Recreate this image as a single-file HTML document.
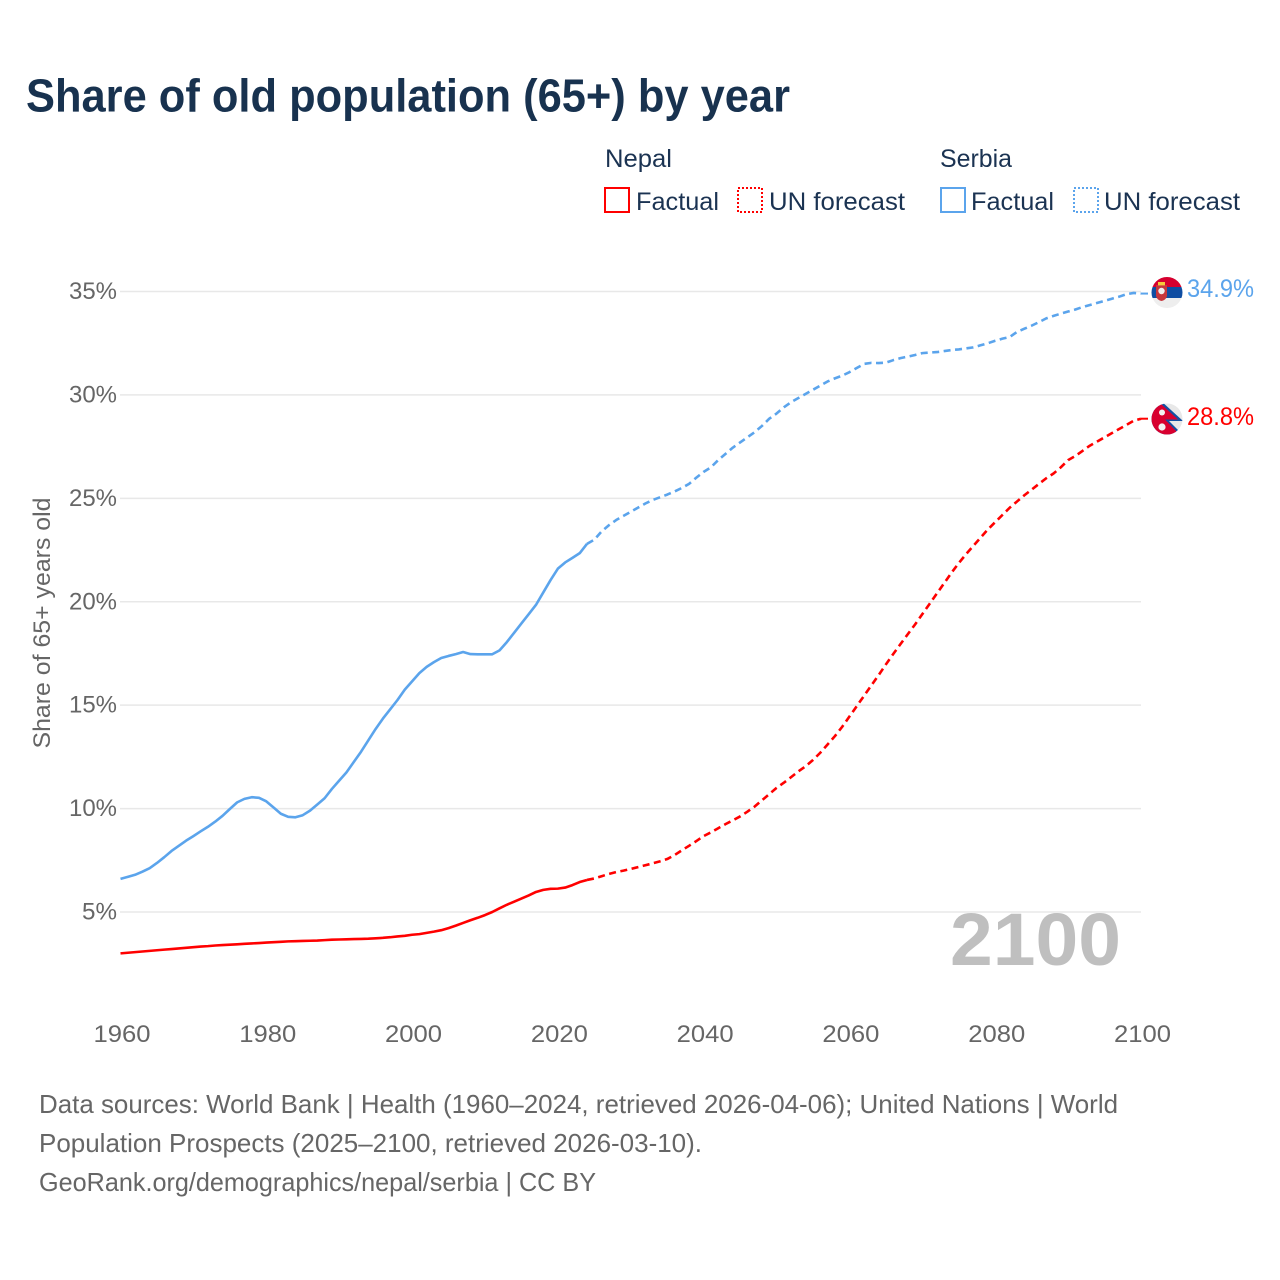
<!DOCTYPE html>
<html lang="en">
<head>
<meta charset="utf-8">
<title>Share of old population (65+) by year</title>
<style>
html,body{margin:0;padding:0;background:#fff;}
svg{display:block;font-family:"Liberation Sans",sans-serif;}
</style>
</head>
<body>
<svg id="chart" xmlns="http://www.w3.org/2000/svg" width="1280" height="1280" viewBox="0 0 1280 1280">
  <defs>
    <clipPath id="clip-rs"><circle cx="1167" cy="292.5" r="15.5"/></clipPath>
    <clipPath id="clip-np"><circle cx="1167" cy="419" r="15.5"/></clipPath>
  </defs>
  <rect width="1280" height="1280" fill="#fff"/>
  <text x="26" y="111.5" font-size="46" font-weight="700" fill="#18324f" textLength="764" lengthAdjust="spacingAndGlyphs">Share of old population (65+) by year</text>

  <g font-size="25" fill="#1b3352">
    <text x="605" y="167" textLength="67" lengthAdjust="spacingAndGlyphs">Nepal</text>
    <rect x="605" y="188" width="24" height="24" fill="none" stroke="#ff0000" stroke-width="2"/>
    <text x="636" y="210" textLength="83" lengthAdjust="spacingAndGlyphs">Factual</text>
    <rect x="738" y="188" width="24" height="24" fill="none" stroke="#ff0000" stroke-width="2" stroke-dasharray="2 2"/>
    <text x="769" y="210" textLength="136" lengthAdjust="spacingAndGlyphs">UN forecast</text>
    <text x="940" y="167" textLength="72" lengthAdjust="spacingAndGlyphs">Serbia</text>
    <rect x="941" y="188" width="24" height="24" fill="none" stroke="#5ba4ec" stroke-width="2"/>
    <text x="971" y="210" textLength="83" lengthAdjust="spacingAndGlyphs">Factual</text>
    <rect x="1074" y="188" width="24" height="24" fill="none" stroke="#5ba4ec" stroke-width="2" stroke-dasharray="2 2"/>
    <text x="1104" y="210" textLength="136" lengthAdjust="spacingAndGlyphs">UN forecast</text>
  </g>

  <text transform="translate(50,623) rotate(-90)" text-anchor="middle" font-size="24" fill="#666" textLength="251" lengthAdjust="spacingAndGlyphs">Share of 65+ years old</text>

  <g id="grid"></g>
  <g id="y-ticks"></g>
  <g id="x-ticks"></g>

  <text x="950" y="965" font-size="74" font-weight="700" fill="#bfbfbf" textLength="171" lengthAdjust="spacingAndGlyphs">2100</text>

  <g id="series"></g>

  <g clip-path="url(#clip-rs)">
    <rect x="1150" y="276" width="34" height="11" fill="#d6002f"/>
    <rect x="1150" y="287" width="34" height="11" fill="#0f4da2"/>
    <rect x="1150" y="298" width="34" height="11" fill="#eeeeee"/>
    <path d="M1156 285h11v11q-1 4-5.500 5q-4.500-1-5.500-5z" fill="#c6363c"/>
    <circle cx="1161.500" cy="291" r="3.200" fill="#eeeeee"/>
    <rect x="1158" y="282" width="7" height="3.400" fill="#f6c93c"/>
  </g>
  <g clip-path="url(#clip-np)">
    <rect x="1150" y="403" width="34" height="32" fill="#e8e8e8"/>
    <path d="M1149 390L1183 421L1169 421L1183 435L1149 440Z" fill="#1450a3"/>
    <path d="M1149 393L1178 419.500L1165 419.500L1179 434L1149 440Z" fill="#d8002f"/>
    <circle cx="1162" cy="412.500" r="3" fill="#f2f2f2"/>
    <circle cx="1162" cy="427" r="3.600" fill="#f2f2f2"/>
  </g>

  <text x="1187" y="297" font-size="25" fill="#5ba4ec" textLength="67" lengthAdjust="spacingAndGlyphs">34.9%</text>
  <text x="1187" y="425" font-size="25" fill="#ff0000" textLength="67" lengthAdjust="spacingAndGlyphs">28.8%</text>

  <g font-size="26" fill="#666">
    <text x="39" y="1113" textLength="1079" lengthAdjust="spacingAndGlyphs">Data sources: World Bank | Health (1960–2024, retrieved 2026-04-06); United Nations | World</text>
    <text x="39" y="1152" textLength="663" lengthAdjust="spacingAndGlyphs">Population Prospects (2025–2100, retrieved 2026-03-10).</text>
    <text x="39" y="1191" textLength="557" lengthAdjust="spacingAndGlyphs">GeoRank.org/demographics/nepal/serbia | CC BY</text>
  </g>
</svg>
<script>
const xTickYears = [1960, 1980, 2000, 2020, 2040, 2060, 2080, 2100];
const yTickValues = [5, 10, 15, 20, 25, 30, 35];
const factualStartYear = 1960;
const forecastStartYear = 2024;
const lastYear = 2100;
const nepalFactual = [
  3.0,3.03,3.06,3.09,3.12,3.15,3.18,3.21,3.24,3.27,
  3.3,3.33,3.35,3.38,3.4,3.42,3.44,3.46,3.48,3.5,
  3.52,3.54,3.56,3.58,3.59,3.6,3.61,3.62,3.64,3.66,
  3.67,3.68,3.69,3.7,3.71,3.73,3.75,3.78,3.82,3.85,
  3.9,3.93,3.99,4.05,4.12,4.22,4.34,4.47,4.6,4.72,
  4.85,5.0,5.18,5.35,5.5,5.65,5.8,5.97,6.07,6.12,
  6.13,6.18,6.3,6.45,6.55];
const nepalForecast = [
  6.55,6.62,6.73,6.84,6.93,7.0,
  7.08,7.17,7.26,7.35,7.45,7.56,7.75,7.98,8.2,8.43,
  8.67,8.85,9.05,9.25,9.43,9.62,9.85,10.1,10.4,10.7,
  11.0,11.25,11.52,11.8,12.05,12.35,12.7,13.1,13.5,13.95,
  14.45,14.95,15.45,15.95,16.45,16.97,17.47,17.95,18.43,18.9,
  19.4,19.9,20.4,20.9,21.4,21.87,22.3,22.7,23.1,23.5,
  23.85,24.2,24.55,24.85,25.15,25.42,25.7,25.97,26.2,26.5,
  26.85,27.05,27.3,27.55,27.75,27.95,28.15,28.35,28.55,28.75,
  28.85];
const serbiaFactual = [
  6.6,6.7,6.8,6.95,7.12,7.37,7.65,7.95,8.2,8.45,
  8.67,8.9,9.12,9.37,9.65,9.98,10.3,10.47,10.55,10.52,
  10.35,10.05,9.75,9.6,9.58,9.68,9.9,10.2,10.5,10.95,
  11.35,11.75,12.25,12.75,13.3,13.85,14.35,14.8,15.25,15.75,
  16.15,16.55,16.85,17.08,17.28,17.38,17.47,17.57,17.47,17.46,
  17.46,17.46,17.65,18.05,18.5,18.95,19.4,19.85,20.45,21.05,
  21.6,21.9,22.12,22.35,22.8];
const serbiaForecast = [
  22.8,23.0,23.4,23.7,23.95,24.15,
  24.35,24.55,24.75,24.92,25.05,25.18,25.33,25.5,25.7,26.0,
  26.28,26.5,26.85,27.15,27.45,27.7,27.95,28.2,28.5,28.85,
  29.1,29.4,29.65,29.85,30.05,30.25,30.45,30.65,30.8,30.93,
  31.1,31.3,31.5,31.55,31.54,31.56,31.68,31.78,31.85,31.93,
  32.02,32.05,32.07,32.12,32.17,32.2,32.25,32.3,32.4,32.5,
  32.62,32.72,32.8,33.05,33.2,33.35,33.52,33.7,33.82,33.93,
  34.03,34.13,34.25,34.35,34.45,34.55,34.65,34.75,34.87,34.93,
  34.9];

const NS = 'http://www.w3.org/2000/svg';
const xOf = year => 120.5 + (year - 1960) * (1141 - 120.5) / 140;
const yOf = value => 912 - (value - 5) * (912 - 291.5) / 30;
const RED = '#ff0000';
const BLUE = '#5ba4ec';

function make(tag, parent, attrs, text) {
  const el = document.createElementNS(NS, tag);
  for (const k in attrs) el.setAttribute(k, attrs[k]);
  if (text !== undefined) el.textContent = text;
  parent.appendChild(el);
  return el;
}

const grid = document.getElementById('grid');
const yTicks = document.getElementById('y-ticks');
yTickValues.forEach(v => {
  const line = make('line', grid, {x1: 120, x2: 1141, y1: yOf(v), y2: yOf(v), stroke: '#e8e8e8', 'stroke-width': 1.5});
  
  
  const label = make('text', yTicks, {x: 69, y: yOf(v) + 7.5, 'font-size': 24, fill: '#666', textLength: v < 10 ? 35 : 48, lengthAdjust: 'spacingAndGlyphs'}, v + '%');
  if (v < 10) label.setAttribute('x', 82);
  
  
});

const xTicks = document.getElementById('x-ticks');
xTickYears.forEach(yr => {
  const label = make('text', xTicks, {x: xOf(yr) + 1.5 - 28.5, y: 1042, 'font-size': 24, fill: '#666', textLength: 57, lengthAdjust: 'spacingAndGlyphs'}, String(yr));
  
  
});

function pathFor(values, startYear) {
  return values.map((v, i) => (i ? 'L' : 'M') + xOf(startYear + i).toFixed(2) + ' ' + yOf(v).toFixed(2)).join('');
}

const series = document.getElementById('series');
function drawSeries(name, color, factual, forecast) {
  const solid = make('path', series, {d: pathFor(factual, factualStartYear), fill: 'none', stroke: color, 'stroke-width': 2.6, 'stroke-linejoin': 'round'});
  
  
  const dashed = make('path', series, {d: pathFor(forecast, forecastStartYear), fill: 'none', stroke: color, 'stroke-width': 2.6, 'stroke-dasharray': '7 4.5', 'stroke-linejoin': 'round'});
  
  
  const lastValue = forecast[lastYear - forecastStartYear];
  const leader = make('line', series, {x1: xOf(lastYear), x2: 1152, y1: yOf(lastValue), y2: yOf(lastValue), stroke: color, 'stroke-width': 2, 'stroke-dasharray': '7 4'});
  
  
}
drawSeries('nepal', RED, nepalFactual, nepalForecast);
drawSeries('serbia', BLUE, serbiaFactual, serbiaForecast);
</script>
</body>
</html>
